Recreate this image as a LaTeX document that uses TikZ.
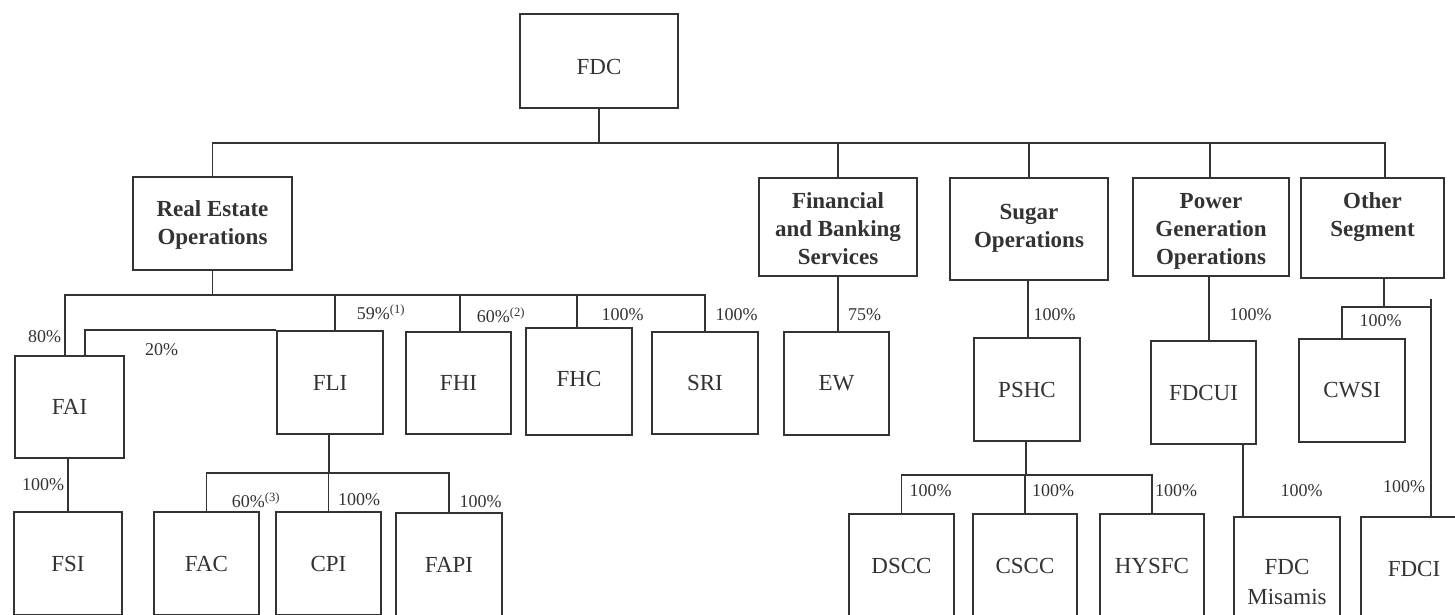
\documentclass[tikz,border=0pt]{standalone}
\usepackage{fontspec}
\setmainfont{Liberation Serif}
\definecolor{ink}{HTML}{333333}
\tikzset{
  box/.style={draw=ink, line width=1.6pt, inner sep=0pt, align=center, text=ink,
    font=\fontsize{23}{28}\selectfont},
  seg/.style={box, font=\fontsize{23}{28}\selectfont\bfseries},
  link/.style={draw=ink, line width=1.6pt},
  pct/.style={text=ink, font=\fontsize{18}{20}\selectfont, inner sep=0pt},
}
\newcommand{\stk}[2]{\raisebox{#1}[0pt][0pt]{\begin{tabular}{@{}c@{}}#2\end{tabular}}}
\newcommand{\lowr}[2]{\raisebox{#1}[0pt][0pt]{#2}}
\begin{document}
\begin{tikzpicture}[x=1pt,y=-1pt]
\useasboundingbox (0,0) rectangle (1455,614);
\clip (0,0) rectangle (1455,614);
\fill[white] (0,0) rectangle (1455,614);
% top
\node[box, minimum width=158pt, minimum height=94pt] (fdc) at (599,61) {\lowr{-13pt}{FDC}};
% segments
\node[seg, minimum width=159pt, minimum height=93pt] (re) at (212.5,223.5) {\stk{-8pt}{Real Estate\\Operations}};
\node[seg, minimum width=158pt, minimum height=98pt] (fin) at (838,227) {\stk{-10pt}{Financial\\and Banking\\Services}};
\node[seg, minimum width=158pt, minimum height=102pt] (sugar) at (1029,229) {\stk{-5pt}{Sugar\\Operations}};
\node[seg, minimum width=156pt, minimum height=98pt] (power) at (1211,227) {\stk{-10pt}{Power\\Generation\\Operations}};
\node[seg, minimum width=143pt, minimum height=100pt] (other) at (1372.5,228)
  {\stk{5pt}{Other\\Segment}};
% level 2
\node[box, minimum width=109pt, minimum height=102pt] (fai) at (69.5,407) {FAI};
\node[box, minimum width=106pt, minimum height=103pt] (fli) at (330,382.5) {FLI};
\node[box, minimum width=105pt, minimum height=102pt] (fhi) at (458.5,383) {FHI};
\node[box, minimum width=106pt, minimum height=107pt] (fhc) at (579,381.5) {\lowr{-5pt}{FHC}};
\node[box, minimum width=106pt, minimum height=102pt] (sri) at (705,383) {SRI};
\node[box, minimum width=105pt, minimum height=103pt] (ew) at (836.5,383.5) {EW};
\node[box, minimum width=106pt, minimum height=103pt] (pshc) at (1027,389.5) {PSHC};
\node[box, minimum width=105pt, minimum height=103pt] (fdcui) at (1203.5,392.5) {FDCUI};
\node[box, minimum width=106pt, minimum height=103pt] (cwsi) at (1352,390.5) {CWSI};
% level 3
\node[box, minimum width=108pt, minimum height=103pt] (fsi) at (68,563.5) {FSI};
\node[box, minimum width=105pt, minimum height=103pt] (fac) at (206.5,563.5) {FAC};
\node[box, minimum width=105pt, minimum height=103pt] (cpi) at (328.5,563.5) {CPI};
\node[box, minimum width=106pt, minimum height=103pt] (fapi) at (449,564.5) {FAPI};
\node[box, minimum width=105pt, minimum height=103pt] (dscc) at (901.5,565.5) {DSCC};
\node[box, minimum width=104pt, minimum height=103pt] (cscc) at (1025,565.5) {CSCC};
\node[box, minimum width=104pt, minimum height=103pt] (hysfc) at (1152,565.5) {HYSFC};
\node[box, minimum width=106pt, minimum height=130pt] (misamis) at (1287,582) {FDC\\[2pt]Misamis};
\node[box, minimum width=106pt, minimum height=103pt] (fdci) at (1414,568.5) {FDCI};
% connectors: FDC to segments
\coordinate (bus) at (599,143);
\draw[link] (fdc.south) -- (bus) -| (re.north);
\draw[link] (bus) -| ([xshift=12.5pt]other.north);
\draw[link] (fin.north) -- (fin.north |- bus);
\draw[link] (sugar.north) -- (sugar.north |- bus);
\draw[link] ([xshift=-1pt]power.north) -- ([xshift=-1pt]power.north |- bus);
% real estate
\coordinate (rebus) at (212.5,295);
\draw[link] (re.south) -- (rebus);
\draw[link] ([xshift=-4.5pt]fai.north) |- (rebus) -| (sri.north);
\draw[link] ([xshift=5pt]fli.north) -- ([xshift=5pt]fli.north |- rebus);
\draw[link] ([xshift=1.5pt]fhi.north) -- ([xshift=1.5pt]fhi.north |- rebus);
\draw[link] ([xshift=-2pt]fhc.north) -- ([xshift=-2pt]fhc.north |- rebus);
\draw[link] (fli.north west) -| ([xshift=15.5pt]fai.north);
\draw[link] (fsi.north) -- (fsi.north |- fai.south);
\coordinate (flibus) at (329,473);
\draw[link] ([xshift=-1pt]fli.south) -- (flibus);
\draw[link] (fac.north) |- (flibus) -| (fapi.north);
\draw[link] (cpi.north) -- (cpi.north |- flibus);
% financial
\draw[link] (fin.south) -- (fin.south |- ew.north);
% sugar
\draw[link] ([xshift=-1pt]sugar.south) -- ([xshift=-1pt]sugar.south |- pshc.north);
\coordinate (pbus) at (1026,475);
\draw[link] ([xshift=-1pt]pshc.south) -- (pbus);
\draw[link] (dscc.north) |- (pbus) -| (hysfc.north);
\draw[link] (cscc.north) -- (cscc.north |- pbus);
% power
\draw[link] ([xshift=-2pt]power.south) -- ([xshift=-2pt]power.south |- fdcui.north);
\draw[link] ([xshift=39.5pt]fdcui.south) -- ([xshift=39.5pt]fdcui.south |- misamis.north);
% other
\coordinate (obus) at (1384,307);
\coordinate (ostub) at (1431,299);
\draw[link] ([xshift=11.5pt]other.south) -- (obus);
\draw[link] ([xshift=-10pt]cwsi.north) |- (obus) -| (ostub);
\draw[link] (ostub) -- (ostub |- fdci.north);
% percentages
\node[pct] (p80) at (44.5,337) {80\%};
\node[pct] (p20) at (161.5,350) {20\%};
\node[pct] (p59) at (381,312) {59\%\textsuperscript{(1)}};
\node[pct] (p60a) at (501,315) {60\%\textsuperscript{(2)}};
\node[pct] (pfhc) at (622.5,315) {100\%};
\node[pct] (psri) at (736.5,315) {100\%};
\node[pct] (pew) at (864.5,315) {75\%};
\node[pct] (ppshc) at (1054.5,315) {100\%};
\node[pct] (pfdcui) at (1250.5,315) {100\%};
\node[pct] (pcwsi) at (1380.5,321) {100\%};
\node[pct] (pfsi) at (43,485) {100\%};
\node[pct] (pfac) at (256,500) {60\%\textsuperscript{(3)}};
\node[pct] (pcpi) at (359,500) {100\%};
\node[pct] (pfapi) at (480.5,502) {100\%};
\node[pct] (pdscc) at (930.5,491) {100\%};
\node[pct] (pcscc) at (1053,491) {100\%};
\node[pct] (physfc) at (1176,491) {100\%};
\node[pct] (pmis) at (1301.5,491) {100\%};
\node[pct] (pfdci) at (1404,487) {100\%};
\end{tikzpicture}
\end{document}
